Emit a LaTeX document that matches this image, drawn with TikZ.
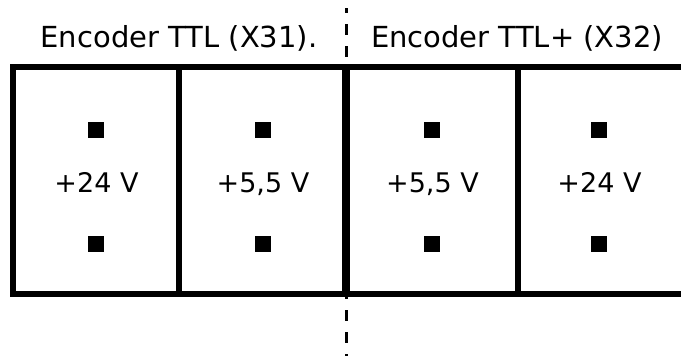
\documentclass[tikz,border=0pt]{standalone}
\usepackage{fontspec}
\setmainfont{DejaVu Sans}
\begin{document}
\begin{tikzpicture}[x=1pt,y=-1pt,
  wall/.style={line width=6pt,line cap=rect},
  midwall/.style={line width=8pt},
  sep/.style={line width=3pt,dash pattern=on 11pt off 11pt,dash phase=6pt},
  pin/.style={fill=black,minimum size=16pt,inner sep=0pt,draw=none},
  lbl/.style={font=\fontsize{27}{28}\selectfont,inner sep=0pt,anchor=base},
  ttl/.style={font=\fontsize{29}{30}\selectfont,inner sep=0pt,anchor=base}]
\useasboundingbox (0,0) rectangle (681,356);
% separator
\coordinate (st) at (346.5,8);
\coordinate (sb) at (346.5,356);
\draw[sep] (st) -- (sb);
% titles
\node[ttl] (t1) at (179,47) {Encoder TTL (X31).};
\node[ttl] (t2) at (517,47) {Encoder TTL+ (X32)};
% frame
\draw[wall] (13,67) -- (690,67);
\draw[wall] (13,293.7) -- (690,293.7);
\draw[wall] (13,67) -- (13,293.7);
\draw[wall] (179,67) -- (179,293.7);
\draw[midwall] (346,67) -- (346,293.7);
\draw[wall] (518,67) -- (518,293.7);
% columns
\foreach \cx/\txt/\n in {96/{+24 V}/a, 262.5/{+5,5 V}/b, 432/{+5,5 V}/c, 599/{+24 V}/d}{
  \node[pin] (p\n1) at (\cx,129.5) {};
  \node[pin] (p\n2) at (\cx,243.5) {};
  \node[lbl] (l\n) at (\cx+0.5,192) {\txt};
}
\end{tikzpicture}
\end{document}
